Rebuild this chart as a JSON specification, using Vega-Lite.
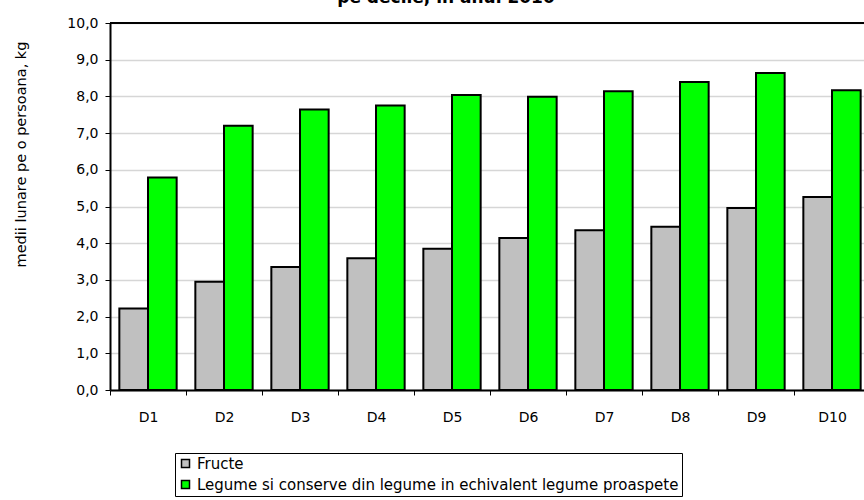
{
  "$schema": "https://vega.github.io/schema/vega-lite/v6.json",
  "width": 754,
  "height": 367,
  "autosize": {"type": "none"},
  "padding": {"left": 110, "top": 23, "right": 0, "bottom": 110},
  "background": "white",
  "config": {"font": "DejaVu Sans", "view": {"stroke": null}},
  "title": {
    "text": "pe decile, in anul 2010",
    "font": "DejaVu Sans",
    "fontSize": 17,
    "fontWeight": "bold",
    "color": "black",
    "anchor": "middle",
    "frame": "group",
    "baseline": "alphabetic",
    "offset": -4,
    "dx": -41
  },
  "data": {
    "values": [
      {"decila": "D1", "serie": "Fructe", "valoare": 2.22},
      {"decila": "D1", "serie": "Legume si conserve din legume in echivalent legume proaspete", "valoare": 5.79},
      {"decila": "D2", "serie": "Fructe", "valoare": 2.95},
      {"decila": "D2", "serie": "Legume si conserve din legume in echivalent legume proaspete", "valoare": 7.2},
      {"decila": "D3", "serie": "Fructe", "valoare": 3.35},
      {"decila": "D3", "serie": "Legume si conserve din legume in echivalent legume proaspete", "valoare": 7.64},
      {"decila": "D4", "serie": "Fructe", "valoare": 3.59},
      {"decila": "D4", "serie": "Legume si conserve din legume in echivalent legume proaspete", "valoare": 7.75},
      {"decila": "D5", "serie": "Fructe", "valoare": 3.85},
      {"decila": "D5", "serie": "Legume si conserve din legume in echivalent legume proaspete", "valoare": 8.04},
      {"decila": "D6", "serie": "Fructe", "valoare": 4.14},
      {"decila": "D6", "serie": "Legume si conserve din legume in echivalent legume proaspete", "valoare": 7.99},
      {"decila": "D7", "serie": "Fructe", "valoare": 4.35},
      {"decila": "D7", "serie": "Legume si conserve din legume in echivalent legume proaspete", "valoare": 8.14},
      {"decila": "D8", "serie": "Fructe", "valoare": 4.45},
      {"decila": "D8", "serie": "Legume si conserve din legume in echivalent legume proaspete", "valoare": 8.39},
      {"decila": "D9", "serie": "Fructe", "valoare": 4.96},
      {"decila": "D9", "serie": "Legume si conserve din legume in echivalent legume proaspete", "valoare": 8.64},
      {"decila": "D10", "serie": "Fructe", "valoare": 5.26},
      {"decila": "D10", "serie": "Legume si conserve din legume in echivalent legume proaspete", "valoare": 8.17}
    ]
  },
  "layer": [
    {
      "mark": {"type": "bar", "stroke": "black", "strokeWidth": 2},
      "encoding": {
        "x": {
          "field": "decila",
          "type": "nominal",
          "sort": ["D1", "D2", "D3", "D4", "D5", "D6", "D7", "D8", "D9", "D10"],
          "scale": {"range": [0, 760], "paddingInner": 0, "paddingOuter": 0},
          "axis": {
            "title": null,
            "labelAngle": 0,
            "labelFont": "DejaVu Sans",
            "labelFontSize": 14,
            "labelColor": "black",
            "labelPadding": 15,
            "tickBand": "extent",
            "tickColor": "black",
            "tickSize": 5,
            "tickWidth": 1,
            "domainColor": "black",
            "domainWidth": 2,
            "grid": false
          }
        },
        "xOffset": {
          "field": "serie",
          "type": "nominal",
          "sort": ["Fructe", "Legume si conserve din legume in echivalent legume proaspete"],
          "scale": {"paddingInner": 0, "paddingOuter": 0.326}
        },
        "y": {
          "field": "valoare",
          "type": "quantitative",
          "scale": {"domain": [0, 10], "nice": false},
          "axis": {
            "title": "medii lunare pe o persoana, kg",
            "titleFont": "DejaVu Sans",
            "titleFontSize": 14.5,
            "titleFontWeight": "normal",
            "titleColor": "black",
            "titleX": -89,
            "titleY": 131,
            "titleAngle": -90,
            "titleAlign": "center",
            "titleBaseline": "middle",
            "values": [0, 1, 2, 3, 4, 5, 6, 7, 8, 9, 10],
            "tickCount": 20,
            "labelOverlap": false,
            "labelExpr": "replace(format(datum.value, '.1f'), '.', ',')",
            "labelFont": "DejaVu Sans",
            "labelFontSize": 14,
            "labelColor": "black",
            "labelPadding": 7,
            "tickColor": "black",
            "tickSize": 5,
            "tickWidth": 1,
            "domainColor": "black",
            "domainWidth": 2,
            "grid": true,
            "gridColor": "#d6d6d6",
            "gridWidth": 1.5
          }
        },
        "color": {
          "field": "serie",
          "type": "nominal",
          "sort": ["Fructe", "Legume si conserve din legume in echivalent legume proaspete"],
          "scale": {
            "domain": ["Fructe", "Legume si conserve din legume in echivalent legume proaspete"],
            "range": ["#c0c0c0", "#00ff00"]
          },
          "legend": {
            "title": null,
            "orient": "none",
            "legendX": 65,
            "legendY": 430,
            "direction": "vertical",
            "strokeColor": "black",
            "fillColor": "white",
            "padding": 3,
            "symbolType": "square",
            "symbolSize": 64,
            "symbolStrokeColor": "black",
            "symbolStrokeWidth": 1.5,
            "symbolOpacity": 1,
            "labelFont": "DejaVu Sans",
            "labelFontSize": 15,
            "labelColor": "black",
            "labelOffset": 4,
            "labelLimit": 0,
            "rowPadding": 5,
            "offset": 0
          }
        }
      }
    },
    {
      "mark": {"type": "rule", "color": "black", "strokeWidth": 2},
      "encoding": {"y": {"datum": 10}}
    }
  ]
}
